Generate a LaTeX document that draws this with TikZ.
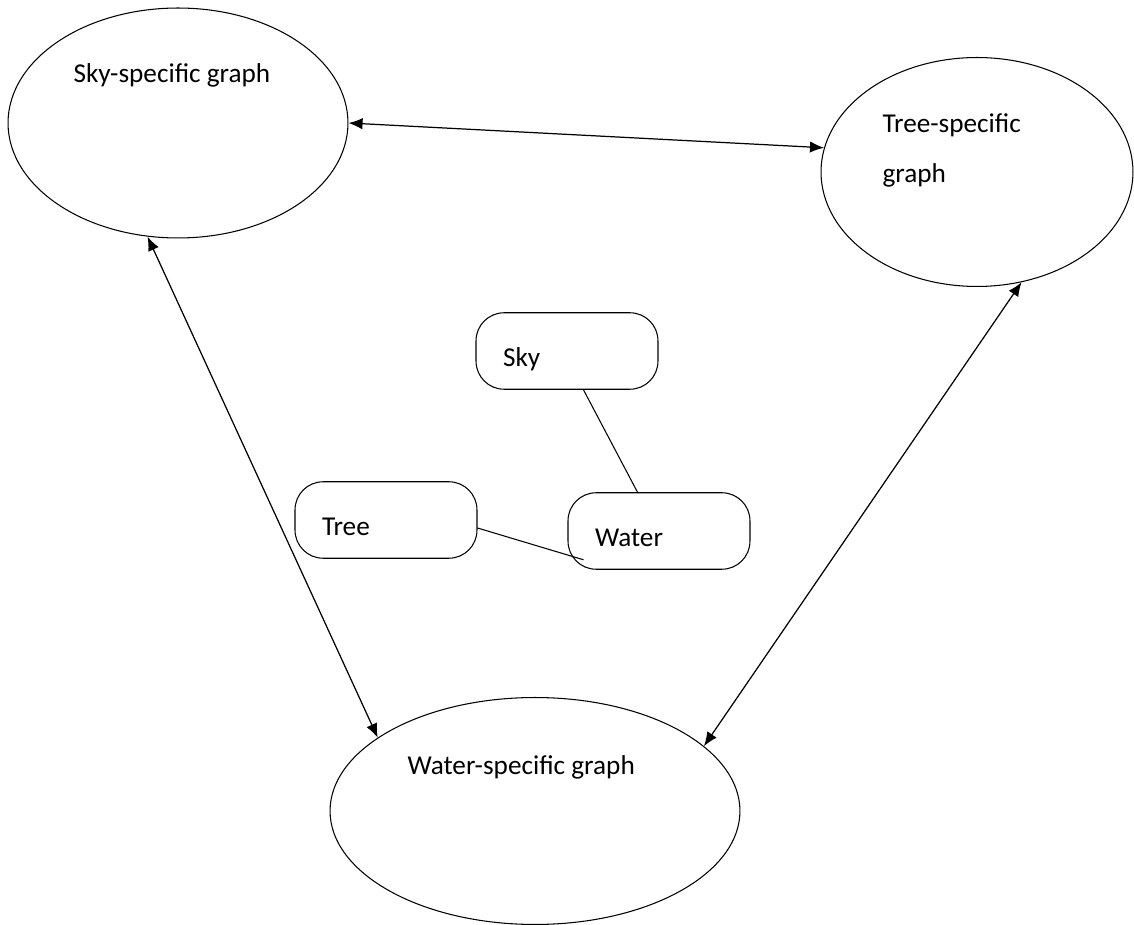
\documentclass[tikz,border=0pt]{standalone}
\usepackage{fontspec}
\setmainfont{Carlito}
\usetikzlibrary{arrows.meta,shapes.geometric}
\usetikzlibrary{calc}
\tikzset{>={Latex[length=8pt,width=6.5pt]}}

\begin{document}
\begin{tikzpicture}[x=0.02cm,y=-0.02cm,line width=0.6pt,
    font=\fontsize{15.5}{29}\selectfont,
    graph/.style={draw,ellipse,inner sep=0pt},
    term/.style={draw,rounded corners=16pt,minimum width=3.64cm,minimum height=1.53cm,
      text width=2.56cm,inner xsep=0.54cm,align=left,text height=18pt,text depth=0pt},
    lbl/.style={anchor=base west,inner sep=0pt,align=left}]
    \useasboundingbox (0,0) rectangle (1134,925);

    \node[graph,minimum width=6.8cm,minimum height=4.6cm] (skyg) at (178,123) {};
    \node[graph,minimum width=6.24cm,minimum height=4.58cm] (treeg) at (977,172) {};
    \node[graph,minimum width=8.2cm,minimum height=4.54cm] (waterg) at (535,811) {};

    \node[lbl] (skyt) at (73,83) {Sky-specific graph};
    \node[lbl] (treet) at (882,183) {Tree-specific\\graph};
    \node[lbl] (watert) at (407,775) {Water-specific graph};

    \node[term] (sky) at (567,351) {Sky};
    \node[term] (tree) at (386,520) {Tree};
    \node[term] (water) at (659,531) {Water};
    \coordinate (wtip) at ([shift={(16,-10)}]water.south west);

    \draw (sky.293)--(water.119);
    \draw (tree.355)--(wtip);

    \draw[<->,line width=0.7pt](skyg.0)--(treeg.171);
    \draw[<->,line width=0.7pt](skyg.255)--(waterg.155);
    \draw[<->,line width=0.7pt](treeg.292)--(waterg.21);
\end{tikzpicture}
\end{document}
